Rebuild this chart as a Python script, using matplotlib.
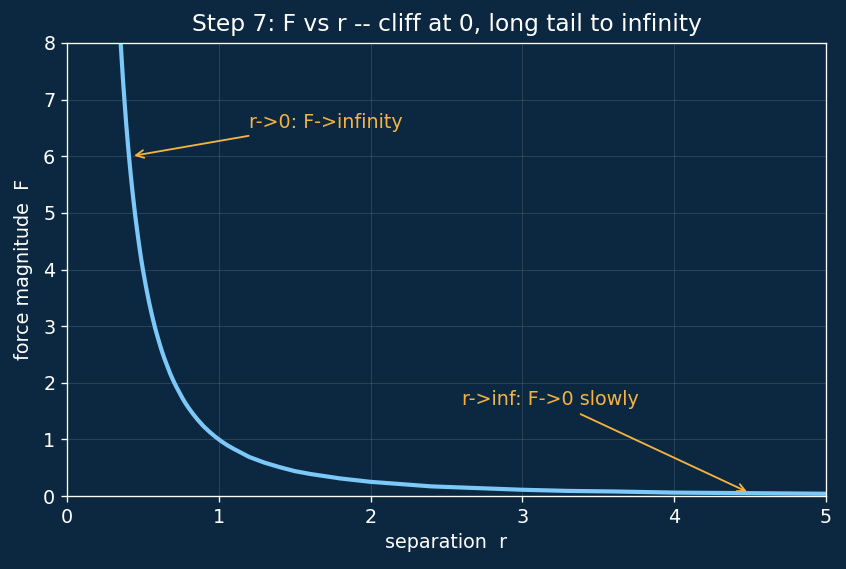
import matplotlib
matplotlib.use("Agg")
import matplotlib.pyplot as plt

plt.rcParams["font.family"] = ["DejaVu Sans"]

# values
r_vals = [0.30, 0.32, 0.34, 0.35, 0.36, 0.37, 0.38, 0.39, 0.40, 0.41, 0.42, 0.43,
          0.44, 0.45, 0.46, 0.47, 0.48, 0.49, 0.50, 0.52, 0.54, 0.56, 0.58, 0.60,
          0.62, 0.64, 0.66, 0.68, 0.70, 0.72, 0.74, 0.76, 0.78, 0.80, 0.83, 0.86,
          0.90, 0.94, 0.98, 1.02, 1.06, 1.10, 1.15, 1.20, 1.25, 1.30, 1.35, 1.40,
          1.50, 1.60, 1.70, 1.80, 1.90, 2.00, 2.20, 2.40, 2.60, 2.80, 3.00, 3.30,
          3.60, 4.00, 4.50, 5.00]
F_vals = [11.11, 9.77, 8.65, 8.16, 7.72, 7.30, 6.93, 6.57, 6.25, 5.95, 5.67, 5.41,
          5.17, 4.94, 4.73, 4.53, 4.34, 4.16, 4.00, 3.70, 3.43, 3.19, 2.97, 2.78,
          2.60, 2.44, 2.30, 2.16, 2.04, 1.93, 1.83, 1.73, 1.64, 1.56, 1.45, 1.35,
          1.23, 1.13, 1.04, 0.96, 0.89, 0.83, 0.76, 0.69, 0.64, 0.59, 0.55, 0.51,
          0.44, 0.39, 0.35, 0.31, 0.28, 0.25, 0.21, 0.17, 0.15, 0.13, 0.11, 0.09,
          0.08, 0.06, 0.05, 0.04]
x_ticks = [0, 1, 2, 3, 4, 5]
y_ticks = [0, 1, 2, 3, 4, 5, 6, 7, 8]
title = "Step 7: F vs r -- cliff at 0, long tail to infinity"
xlabel = "separation  r"
ylabel = "force magnitude  F"
note1 = "r->0: F->infinity"
note1_xy = (0.42, 6.0)
note1_text = (1.2, 6.5)
note2 = "r->inf: F->0 slowly"
note2_xy = (4.5, 0.05)
note2_text = (2.6, 1.6)

bg = "#0c2840"
fg = "white"
orange = "#f5b342"

fig = plt.figure(figsize=(8.46 / 1.2, 5.69 / 1.2), dpi=120, facecolor=bg)
ax = fig.add_axes([67 / 846, 1 - 496 / 569, (826 - 67) / 846, (496 - 43) / 569])
ax.set_facecolor(bg)

ax.plot(r_vals, F_vals, color="#7cc8f8", lw=2.5)

ax.set_xlim(0, 5)
ax.set_ylim(0, 8)
ax.set_xticks(x_ticks)
ax.set_yticks(y_ticks)
ax.grid(True, color="white", alpha=0.12, lw=0.6)
for s in ax.spines.values():
    s.set_color(fg)
ax.tick_params(colors=fg, labelsize=11.5)
ax.set_title(title, color=fg, fontsize=14, pad=7)
ax.set_xlabel(xlabel, color=fg, fontsize=11.5, labelpad=4)
ax.set_ylabel(ylabel, color=fg, fontsize=11.5, labelpad=6)

ax.annotate(note1, xy=note1_xy, xytext=note1_text, color=orange, fontsize=11.5,
            arrowprops=dict(arrowstyle="->", color=orange, lw=1.1))
ax.annotate(note2, xy=note2_xy, xytext=note2_text, color=orange, fontsize=11.5,
            arrowprops=dict(arrowstyle="->", color=orange, lw=1.1))

fig.savefig("out.png", dpi=120, facecolor=bg)
